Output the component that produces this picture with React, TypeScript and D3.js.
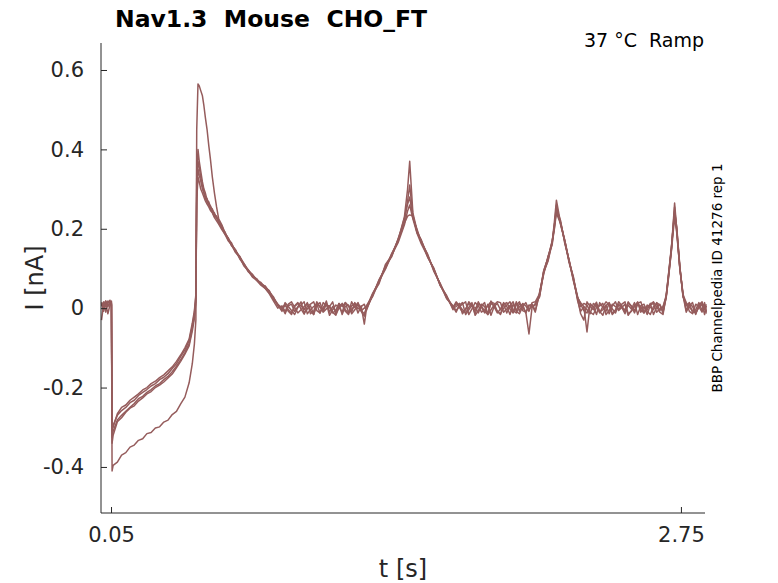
import React, { useEffect, useRef } from "react";
import * as d3 from "d3";

// sample times [s], shared by all sweeps
const times = [
  0.005, 0.015, 0.025, 0.035, 0.045, 0.052,
  0.055, 0.06, 0.08, 0.1, 0.12, 0.14, 0.16, 0.18, 0.2, 0.22, 0.24, 0.26, 0.28, 0.3, 0.32, 0.34, 0.36, 0.38, 0.4, 0.42, 0.435, 0.445, 0.452,
  0.456, 0.462, 0.468, 0.475, 0.483, 0.49, 0.497, 0.505, 0.513, 0.521, 0.53, 0.54, 0.55, 0.56, 0.575, 0.59, 0.605, 0.62, 0.64, 0.66, 0.68, 0.7, 0.72, 0.74, 0.76, 0.78, 0.8, 0.82, 0.84, 0.86,
  0.875, 0.89, 0.905, 0.92, 0.935, 0.95, 0.965, 0.98, 0.995, 1.01, 1.025, 1.04, 1.055, 1.07, 1.085, 1.1, 1.115, 1.13, 1.145, 1.16, 1.175, 1.19, 1.205, 1.22, 1.235, 1.25,
  1.26, 1.29, 1.32, 1.35, 1.38, 1.41, 1.44, 1.455, 1.465, 1.48, 1.5, 1.52, 1.55, 1.58, 1.61, 1.64, 1.67,
  1.685, 1.7, 1.715, 1.73, 1.745, 1.76, 1.775, 1.79, 1.805, 1.82, 1.835, 1.85, 1.865, 1.88, 1.895, 1.91, 1.925, 1.94, 1.955, 1.97, 1.985, 2.0, 2.015, 2.03, 2.045, 2.06,
  2.08, 2.1, 2.12, 2.14, 2.15, 2.16, 2.18, 2.2, 2.22, 2.24, 2.26,
  2.275, 2.29, 2.305, 2.32, 2.335, 2.35, 2.365, 2.38, 2.395, 2.41, 2.425, 2.44, 2.455, 2.47, 2.485, 2.5, 2.515, 2.53, 2.545, 2.56, 2.575, 2.59, 2.605, 2.62, 2.635, 2.65, 2.665,
  2.68, 2.69, 2.705, 2.72, 2.73, 2.745, 2.76,
  2.775, 2.79, 2.805, 2.82, 2.835, 2.85, 2.862, 2.87,
];

// current [nA] of each sweep
const sweepA = [
  0.012, -0.008, 0.018, 0.004, 0.015, 0.01,
  -0.31, -0.295, -0.27, -0.258, -0.25, -0.238, -0.232, -0.22, -0.212, -0.205, -0.196, -0.19, -0.18, -0.174, -0.165, -0.152, -0.14, -0.122, -0.105, -0.082, -0.045, -0.012, 0.03,
  0.33, 0.4, 0.37, 0.345, 0.318, 0.3, 0.29, 0.272, 0.268, 0.255, 0.25, 0.236, 0.232, 0.218, 0.207, 0.188, 0.177, 0.16, 0.147, 0.126, 0.112, 0.093, 0.085, 0.07, 0.065, 0.052, 0.044, 0.022, 0.01, -0.004,
  0.008, -0.004, -0.012, 0.006, 0.014, -0.002, -0.015, 0.004, 0.01, 0.016, -0.006, -0.012, 0.002, 0.012, -0.018, -0.004, 0.008, 0.002, -0.01, 0.014, 0.006, -0.014, -0.004, 0.01, -0.008, -0.02,
  0.002, 0.038, 0.066, 0.106, 0.13, 0.175, 0.22, 0.27, 0.31, 0.235, 0.19, 0.172, 0.128, 0.1, 0.056, 0.032, -0.004,
  0.012, 0.002, -0.01, -0.004, 0.016, 0.006, -0.014, 0.01, 0.006, -0.008, -0.016, 0.018, 0.004, -0.012, -0.002, 0.014, 0.004, -0.016, 0.01, -0.006, 0.012, 0.002, -0.01, -0.065, 0.004, 0.008,
  0.03, 0.092, 0.12, 0.168, 0.205, 0.26, 0.21, 0.168, 0.115, 0.078, 0.02,
  -0.008, 0.004, -0.06, 0.012, 0.002, 0.015, -0.01, -0.004, 0.008, -0.014, 0.006, 0.016, -0.006, 0.002, 0.01, -0.018, -0.006, 0.006, 0.014, -0.01, 0.004, -0.016, 0.008, 0.012, -0.01, -0.002, 0.004,
  0.028, 0.07, 0.148, 0.255, 0.195, 0.098, 0.032,
  -0.01, 0.006, 0.014, -0.012, 0.002, 0.01, -0.016, 0.006,
];
const sweepB = [
  0.005, 0.016, -0.01, 0.012, 0.02, 0.008,
  -0.325, -0.31, -0.282, -0.27, -0.26, -0.25, -0.24, -0.228, -0.222, -0.212, -0.205, -0.196, -0.19, -0.18, -0.172, -0.16, -0.146, -0.13, -0.112, -0.09, -0.05, -0.02, 0.02,
  0.3, 0.37, 0.355, 0.33, 0.31, 0.292, 0.28, 0.276, 0.262, 0.258, 0.246, 0.24, 0.226, 0.222, 0.2, 0.192, 0.172, 0.165, 0.142, 0.13, 0.108, 0.097, 0.08, 0.074, 0.06, 0.056, 0.04, 0.028, 0.006, 0.002,
  -0.014, 0.006, 0.01, -0.008, 0.004, 0.016, -0.012, -0.002, 0.006, -0.016, 0.012, 0.002, -0.004, 0.018, -0.01, 0.004, -0.008, 0.012, -0.016, 0.004, 0.008, -0.01, 0.014, -0.002, 0.006, -0.04,
  -0.002, 0.032, 0.072, 0.1, 0.138, 0.168, 0.228, 0.262, 0.28, 0.228, 0.198, 0.165, 0.136, 0.092, 0.062, 0.026, 0.004,
  -0.01, 0.008, 0.014, -0.016, -0.004, 0.008, -0.006, 0.016, 0.002, -0.012, 0.01, -0.018, 0.004, 0.012, -0.004, 0.01, -0.012, 0.006, 0.016, -0.008, -0.014, 0.004, 0.014, -0.004, 0.008, -0.01,
  0.04, 0.086, 0.13, 0.16, 0.2, 0.25, 0.22, 0.162, 0.122, 0.072, 0.028,
  0.01, -0.006, -0.012, 0.008, 0.004, -0.016, 0.014, 0.002, -0.008, 0.012, -0.014, -0.004, 0.016, 0.006, -0.01, 0.008, -0.002, 0.014, -0.016, 0.006, 0.01, -0.008, -0.016, 0.004, 0.012, -0.006, 0.002,
  0.032, 0.08, 0.155, 0.24, 0.205, 0.105, 0.028,
  0.012, -0.008, -0.014, 0.01, 0.004, -0.01, 0.014, -0.008,
];
const sweepC = [
  0.015, 0.002, 0.01, -0.014, 0.008, 0.014,
  -0.29, -0.3, -0.266, -0.25, -0.244, -0.232, -0.224, -0.216, -0.206, -0.2, -0.19, -0.184, -0.175, -0.168, -0.158, -0.148, -0.134, -0.118, -0.1, -0.078, -0.038, -0.006, 0.035,
  0.28, 0.35, 0.335, 0.32, 0.3, 0.29, 0.276, 0.268, 0.26, 0.25, 0.242, 0.232, 0.228, 0.214, 0.203, 0.186, 0.176, 0.158, 0.146, 0.124, 0.11, 0.092, 0.082, 0.073, 0.062, 0.05, 0.038, 0.024, 0.008, -0.008,
  0.014, 0.004, -0.006, -0.016, 0.002, 0.008, 0.016, -0.014, -0.004, 0.004, 0.01, -0.012, 0.014, 0.006, 0.006, -0.01, -0.018, 0.002, 0.012, -0.004, -0.012, 0.016, 0.002, 0.012, -0.006, 0.0,
  0.006, 0.03, 0.068, 0.098, 0.134, 0.165, 0.21, 0.245, 0.26, 0.225, 0.188, 0.162, 0.13, 0.098, 0.058, 0.03, 0.002,
  0.016, 0.006, -0.004, -0.012, 0.002, 0.014, -0.018, -0.006, 0.01, 0.004, -0.014, 0.012, 0.006, -0.008, -0.016, 0.01, 0.014, -0.002, -0.012, 0.008, 0.016, -0.006, -0.01, 0.006, 0.01, -0.006,
  0.034, 0.095, 0.126, 0.17, 0.198, 0.24, 0.212, 0.17, 0.118, 0.08, 0.024,
  -0.014, -0.03, 0.016, 0.004, -0.004, 0.01, -0.008, -0.018, 0.006, 0.014, -0.002, -0.012, 0.008, 0.002, -0.014, 0.016, 0.004, -0.006, 0.012, 0.016, -0.01, -0.004, 0.012, -0.016, 0.002, 0.01, -0.008,
  0.026, 0.074, 0.145, 0.23, 0.19, 0.1, 0.036,
  -0.006, 0.012, 0.004, -0.016, 0.008, 0.016, -0.004, 0.01,
];
const sweepD = [
  -0.03, 0.01, 0.018, 0.006, 0.012, 0.018,
  -0.34, -0.32, -0.286, -0.276, -0.262, -0.252, -0.246, -0.234, -0.226, -0.216, -0.21, -0.2, -0.194, -0.186, -0.176, -0.166, -0.15, -0.134, -0.116, -0.095, -0.058, -0.026, 0.015,
  0.27, 0.33, 0.318, 0.3, 0.29, 0.28, 0.27, 0.262, 0.255, 0.246, 0.24, 0.228, 0.22, 0.212, 0.198, 0.186, 0.17, 0.16, 0.14, 0.128, 0.106, 0.094, 0.078, 0.07, 0.058, 0.05, 0.036, 0.018, 0.0, 0.006,
  -0.008, 0.01, 0.016, 0.002, -0.012, -0.004, 0.004, 0.012, -0.006, -0.016, 0.008, 0.014, -0.01, -0.002, 0.004, 0.016, -0.014, 0.002, 0.01, -0.008, -0.016, 0.006, 0.012, -0.012, 0.004, 0.01,
  -0.006, 0.036, 0.062, 0.11, 0.132, 0.172, 0.215, 0.232, 0.235, 0.232, 0.192, 0.17, 0.134, 0.095, 0.06, 0.024, 0.006,
  -0.006, 0.004, 0.01, 0.016, -0.016, -0.002, 0.014, 0.006, -0.01, -0.004, 0.006, 0.016, 0.012, -0.008, -0.014, 0.0, 0.008, 0.016, -0.006, -0.012, 0.004, 0.01, -0.012, 0.008, 0.002, 0.012,
  0.028, 0.09, 0.118, 0.164, 0.208, 0.245, 0.216, 0.166, 0.12, 0.075, 0.03,
  0.004, 0.012, 0.008, -0.01, -0.016, 0.002, 0.006, 0.012, -0.016, -0.006, 0.01, 0.004, -0.004, 0.01, 0.016, -0.014, -0.008, 0.004, 0.016, -0.004, -0.012, 0.008, 0.002, -0.004, 0.014, 0.008, -0.012,
  0.03, 0.078, 0.152, 0.245, 0.2, 0.102, 0.03,
  0.006, 0.014, -0.012, -0.004, 0.014, -0.006, 0.008, -0.014,
];
const sweepE = [
  0.008, 0.012, 0.004, 0.018, 0.01, 0.012,
  -0.41, -0.396, -0.388, -0.37, -0.364, -0.35, -0.345, -0.333, -0.329, -0.316, -0.313, -0.302, -0.299, -0.287, -0.282, -0.268, -0.26, -0.241, -0.224, -0.188, -0.14, -0.09, -0.03,
  0.45, 0.565, 0.56, 0.548, 0.535, 0.51, 0.48, 0.45, 0.41, 0.375, 0.33, 0.29, 0.255, 0.225, 0.21, 0.19, 0.176, 0.162, 0.144, 0.13, 0.112, 0.096, 0.084, 0.072, 0.062, 0.055, 0.042, 0.026, 0.01, 0.0,
  0.01, -0.008, -0.016, 0.004, 0.012, 0.006, -0.004, 0.014, -0.014, -0.008, 0.016, 0.004, -0.008, 0.01, 0.002, -0.012, -0.006, 0.012, 0.004, 0.014, -0.01, -0.002, 0.004, 0.014, -0.006, -0.014,
  0.0, 0.034, 0.07, 0.104, 0.136, 0.172, 0.23, 0.3, 0.37, 0.24, 0.195, 0.168, 0.132, 0.096, 0.058, 0.028, 0.0,
  0.004, 0.012, -0.014, -0.002, 0.012, 0.004, 0.002, -0.012, 0.006, 0.014, -0.016, -0.004, 0.008, 0.016, 0.014, -0.01, -0.002, 0.006, -0.01, 0.016, -0.008, 0.012, 0.006, -0.008, 0.014, 0.016,
  0.036, 0.094, 0.128, 0.166, 0.215, 0.272, 0.214, 0.17, 0.12, 0.07, 0.026,
  0.014, 0.004, -0.004, -0.014, 0.012, 0.006, -0.012, 0.004, 0.016, 0.008, -0.016, -0.006, 0.01, 0.002, -0.004, 0.014, 0.006, -0.012, 0.01, 0.004, -0.012, 0.002, 0.01, 0.016, 0.004, -0.01, -0.016,
  0.03, 0.076, 0.15, 0.265, 0.2, 0.1, 0.034,
  0.014, 0.002, -0.006, -0.012, 0.004, 0.012, 0.004, -0.01,
];

const sweeps = [sweepA, sweepB, sweepC, sweepD, sweepE];
const yTicks = [-0.4, -0.2, 0, 0.2, 0.4, 0.6];
const xTicks = [0.05, 2.75];

const W = 778;
const H = 583;
const FONT = "DejaVu Sans, sans-serif";
const INK = "#262626";
const TRACE = "#955c5c";

const App: React.FC = () => {
  const ref = useRef<SVGSVGElement | null>(null);

  useEffect(() => {
    if (!ref.current) return;
    const svg = d3.select(ref.current);
    svg.selectAll("*").remove();

    const left = 101, right = 705, top = 43, bottom = 513;
    const x = d3.scaleLinear().domain([0.0025, 2.864]).range([left, right]);
    const y = d3.scaleLinear().domain([-0.516, 0.668]).range([bottom, top]);

    const line = d3
      .line<number>()
      .x((_, i) => x(times[i]))
      .y((d) => y(d));

    svg
      .append("g")
      .selectAll("path")
      .data(sweeps)
      .enter()
      .append("path")
      .attr("d", (d) => line(d))
      .attr("fill", "none")
      .attr("stroke", TRACE)
      .attr("stroke-width", 1.5)
      .attr("stroke-linejoin", "round");

    // axes, ticks pointing inward
    const yAxis = d3
      .axisLeft(y)
      .tickValues(yTicks)
      .tickSizeInner(-6)
      .tickSizeOuter(0)
      .tickPadding(17)
      .tickFormat((d) => d3.format("")(+d).replace("−", "-"));
    const gy = svg.append("g").attr("transform", `translate(${left},0)`).call(yAxis);

    const xAxis = d3
      .axisBottom(x)
      .tickValues(xTicks)
      .tickSizeInner(-6)
      .tickSizeOuter(0)
      .tickPadding(14)
      .tickFormat((d) => d3.format(".2f")(+d));
    const gx = svg.append("g").attr("transform", `translate(0,${bottom})`).call(xAxis);

    [gy, gx].forEach((g) => {
      g.select(".domain").remove();
      g.selectAll("line").attr("stroke", INK);
      g.selectAll("text")
        .attr("fill", INK)
        .style("font-family", FONT)
        .style("font-size", "21px");
    });

    svg
      .append("path")
      .attr("d", `M${left},${top}V${bottom}H${right}`)
      .attr("fill", "none")
      .attr("stroke", INK)
      .attr("stroke-width", 1);

    svg
      .append("text")
      .attr("x", (left + right) / 2)
      .attr("y", 577)
      .attr("text-anchor", "middle")
      .attr("fill", INK)
      .style("font-family", FONT)
      .style("font-size", "24px")
      .text("t [s]");

    svg
      .append("text")
      .attr("transform", `translate(43,${(top + bottom) / 2}) rotate(-90)`)
      .attr("text-anchor", "middle")
      .attr("fill", INK)
      .style("font-family", FONT)
      .style("font-size", "24px")
      .text("I [nA]");

    svg
      .append("text")
      .attr("x", 115)
      .attr("y", 27)
      .attr("fill", "#000")
      .style("font-family", FONT)
      .style("font-weight", "bold")
      .style("font-size", "23.5px")
      .style("white-space", "pre")
      .text("Nav1.3  Mouse  CHO_FT");

    svg
      .append("text")
      .attr("x", 704)
      .attr("y", 47)
      .attr("text-anchor", "end")
      .attr("fill", "#000")
      .style("font-family", FONT)
      .style("font-size", "19px")
      .style("white-space", "pre")
      .text("37 °C  Ramp");

    svg
      .append("text")
      .attr("transform", `translate(722,278) rotate(-90)`)
      .attr("text-anchor", "middle")
      .attr("fill", "#000")
      .style("font-family", FONT)
      .style("font-size", "13.5px")
      .text("BBP Channelpedia ID 41276 rep 1");
  }, []);

  return (
    <svg
      ref={ref}
      width={W}
      height={H}
      style={{ position: "absolute", left: 0, top: 0, background: "#fff" }}
    ></svg>
  );
};

export default App;
